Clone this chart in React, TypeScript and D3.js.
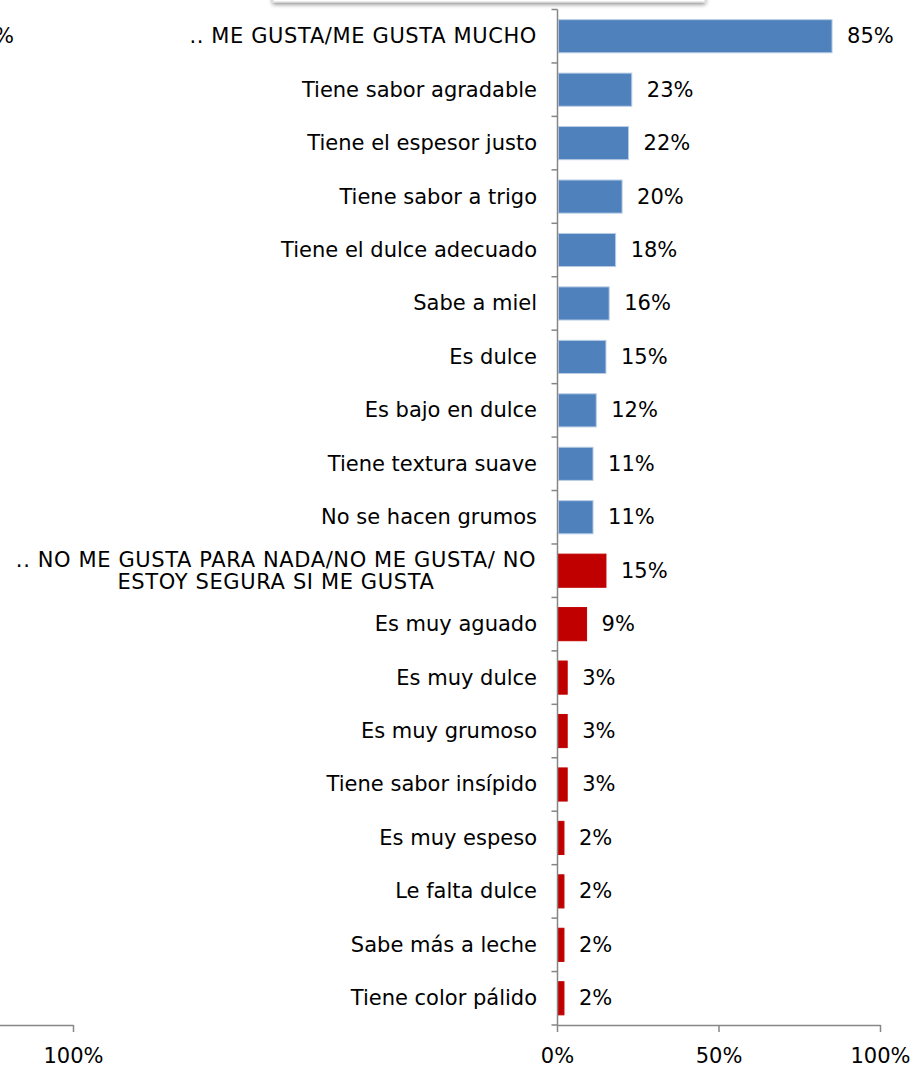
import React from "react";
import * as d3 from "d3";

const categories: string[] = [
  ".. ME GUSTA/ME GUSTA MUCHO",
  "Tiene sabor agradable",
  "Tiene el espesor justo",
  "Tiene sabor a trigo",
  "Tiene el dulce adecuado",
  "Sabe a miel",
  "Es dulce",
  "Es bajo en dulce",
  "Tiene textura suave",
  "No se hacen grumos",
  ".. NO ME GUSTA PARA NADA/NO ME GUSTA/ NO\nESTOY SEGURA SI ME GUSTA",
  "Es muy aguado",
  "Es muy dulce",
  "Es muy grumoso",
  "Tiene sabor insípido",
  "Es muy espeso",
  "Le falta dulce",
  "Sabe más a leche",
  "Tiene color pálido",
];
const values: number[] = [85, 23, 22, 20, 18, 16, 15, 12, 11, 11, 15, 9, 3, 3, 3, 2, 2, 2, 2];
const groups: string[] = ["pos", "pos", "pos", "pos", "pos", "pos", "pos", "pos", "pos", "pos", "neg", "neg", "neg", "neg", "neg", "neg", "neg", "neg", "neg"];
const xTicks: number[] = [0, 50, 100];

const W = 923;
const H = 1073;
const FONT = "'DejaVu Sans', Verdana, sans-serif";
const FS = 21;

export default function App() {
  const x = d3.scaleLinear().domain([0, 100]).range([557.5, 880.5]);
  const y = d3.scaleBand<number>().domain(d3.range(categories.length)).range([9.5, 1025]).paddingInner(0.38).paddingOuter(0.19);
  const step = y.step();
  const axisColor = "#868686";
  const colorOf = (g: string) => (g === "pos" ? "#4F81BD" : "#C00000");
  const strokeOf = (g: string) => (g === "pos" ? "#B9CDE5" : "#C00000");
  const bottom = 1025;
  const isUpper = (s: string) => s === s.toUpperCase();

  return (
    <svg width={W} height={H} style={{ position: "absolute", left: 0, top: 0, background: "#fff" }} fontFamily={FONT}>
      <defs>
        <filter id="sh" x="-10%" y="-50%" width="120%" height="250%">
          <feGaussianBlur in="SourceAlpha" stdDeviation="2" />
          <feOffset dx="0" dy="2" result="b" />
          <feComponentTransfer><feFuncA type="linear" slope="0.45" /></feComponentTransfer>
          <feMerge><feMergeNode /><feMergeNode in="SourceGraphic" /></feMerge>
        </filter>
      </defs>
      <rect x={273} y={-30} width={432} height={32} fill="#fff" stroke="#d9d9d9" filter="url(#sh)" />

      {/* left fragment of another chart */}
      <text x={14} y={36 + 7} fontSize={FS} textAnchor="end" fill="#000">85%</text>
      <line x1={0} x2={73.5} y1={bottom + 0.5} y2={bottom + 0.5} stroke={axisColor} strokeWidth={1.5} />
      <line x1={73.5} x2={73.5} y1={bottom} y2={bottom + 7} stroke={axisColor} strokeWidth={1.5} />
      <text x={73.5} y={1063} fontSize={FS} textAnchor="middle" fill="#000">100%</text>

      {/* bars */}
      {values.map((v, i) => (
        <rect key={i} x={x(0) + 1} y={y(i)} width={Math.max(0, x(v) - x(0) - 1)} height={y.bandwidth()} fill={colorOf(groups[i])} stroke={strokeOf(groups[i])} strokeWidth={1} />
      ))}
      {values.map((v, i) => (
        <text key={i} x={x(v) + 15} y={(y(i) as number) + y.bandwidth() / 2 + 7} fontSize={FS} fill="#000">{v}%</text>
      ))}

      {/* category labels */}
      {categories.map((c, i) => {
        const cy = (y(i) as number) + y.bandwidth() / 2;
        const lines = c.split("\n");
        const ls = isUpper(c) ? 0.62 : 0;
        if (lines.length === 1) {
          return <text key={i} x={537} y={cy + 7} fontSize={FS} textAnchor="end" letterSpacing={ls} fill="#000">{c}</text>;
        }
        return (
          <text key={i} x={276} y={cy} fontSize={FS} textAnchor="middle" letterSpacing={ls} fill="#000">
            {lines.map((l, j) => (
              <tspan key={j} x={276} y={cy + 7 + (j - (lines.length - 1) / 2) * 22.3}>{l}</tspan>
            ))}
          </text>
        );
      })}

      {/* vertical axis */}
      <line x1={x(0)} x2={x(0)} y1={9.5} y2={bottom} stroke={axisColor} strokeWidth={1.5} />
      {d3.range(categories.length + 1).map((k) => (
        <line key={k} x1={x(0) - 6} x2={x(0)} y1={9.5 + k * step} y2={9.5 + k * step} stroke={axisColor} strokeWidth={1.5} />
      ))}

      {/* horizontal axis */}
      <line x1={x(0)} x2={x(100)} y1={bottom + 0.5} y2={bottom + 0.5} stroke={axisColor} strokeWidth={1.5} />
      {xTicks.map((t) => (
        <g key={t}>
          <line x1={x(t)} x2={x(t)} y1={bottom} y2={bottom + 7} stroke={axisColor} strokeWidth={1.5} />
          <text x={x(t)} y={1063} fontSize={FS} textAnchor="middle" fill="#000">{t}%</text>
        </g>
      ))}
    </svg>
  );
}
